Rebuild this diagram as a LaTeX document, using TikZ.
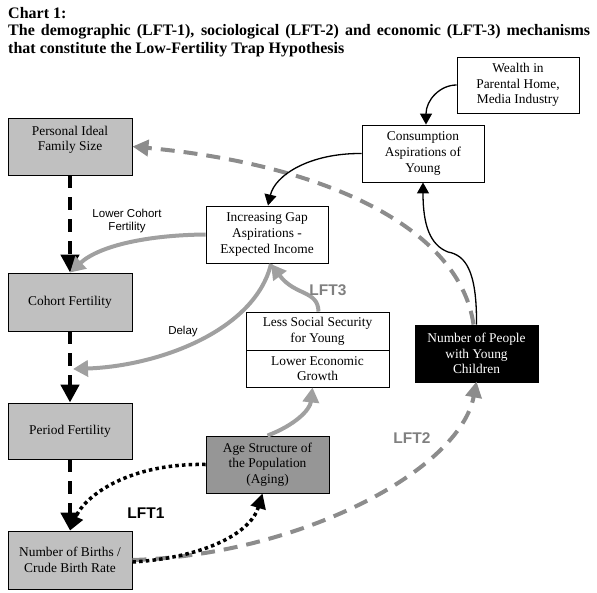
\documentclass[tikz,border=0pt]{standalone}
\usepackage{fontspec}
\setmainfont{Liberation Serif}
\setsansfont{Liberation Sans}
\usetikzlibrary{arrows.meta}
\definecolor{boxgray}{HTML}{C0C0C0}
\definecolor{agegray}{HTML}{969696}
\definecolor{arrgray}{HTML}{A0A0A0}
\definecolor{dashgray}{HTML}{8C8C8C}
\definecolor{lftgray}{HTML}{808080}
\begin{document}
\begin{tikzpicture}[x=1pt,y=-1pt,
  box/.style={draw=black, line width=0.9pt, inner sep=0pt, align=center,
    font=\fontsize{13.4}{15.6}\selectfont},
  graybox/.style={box, fill=boxgray, minimum width=124pt},
  whitebox/.style={box, fill=white},
  blackdash/.style={line width=4.5pt, dash pattern=on 13pt off 9pt,
    -{Triangle[length=18pt,width=18pt]}},
  grayarrow/.style={line width=4pt, arrgray, -{Triangle[length=15pt,width=16pt]}},
  graydash/.style={line width=4pt, dashgray, dash pattern=on 14pt off 9pt,
    -{Triangle[length=16pt,width=16pt]}},
  thinarrow/.style={line width=1.3pt, -{Triangle[length=11pt,width=12pt]}},
  dotarrow/.style={line width=3.5pt, dash pattern=on 3.5pt off 3.2pt,
    -{Triangle[length=15pt,width=15pt]}},
  lbl/.style={font=\sffamily\fontsize{11.5}{13}\selectfont, align=center, inner sep=0pt},
  lft/.style={font=\sffamily\bfseries\fontsize{15.5}{17}\selectfont, inner sep=0pt},
  ttl/.style={font=\bfseries\fontsize{16}{18}\selectfont, inner sep=0pt, anchor=base west}
]
\useasboundingbox (0,0) rectangle (597,592);

% title
\node[ttl] (t1) at (8,18) {Chart 1:};
\node[ttl] (t2) at (8,35.5) {\makebox[582pt][s]{The demographic (LFT-1), sociological (LFT-2) and economic (LFT-3) mechanisms}};
\node[ttl] (t3) at (8,53) {that constitute the Low-Fertility Trap Hypothesis};

% boxes
\node[graybox, minimum height=57pt] (pers) at (70,146.5) {Personal Ideal\\Family Size\\[1pt]};
\node[graybox, minimum height=58pt] (coh) at (70,302) {Cohort Fertility};
\node[graybox, minimum height=56pt] (per) at (70,431) {Period Fertility};
\node[graybox, minimum height=58pt] (birth) at (70,560) {Number of Births /\\Crude Birth Rate};
\node[whitebox, minimum width=122pt, minimum height=57pt] (gap) at (267,234.5) {Increasing Gap\\Aspirations -\\Expected Income};
\node[whitebox, minimum width=143pt, minimum height=38pt] (lss) at (317.5,331) {Less Social Security\\for Young};
\node[whitebox, minimum width=143pt, minimum height=37pt] (leg) at (317.5,368.5) {Lower Economic\\Growth};
\node[box, fill=black, text=white, minimum width=123pt, minimum height=57pt] (npc) at (476.5,353.5) {Number of People\\with Young\\Children};
\node[box, fill=agegray, minimum width=123pt, minimum height=57pt] (age) at (267.5,464.5) {Age Structure of\\the Population\\(Aging)};
\node[whitebox, minimum width=122pt, minimum height=56pt] (wealth) at (518,85) {Wealth in\\Parental Home,\\Media Industry};
\node[whitebox, minimum width=122pt, minimum height=57pt] (cons) at (423,153.5) {Consumption\\Aspirations of\\Young};

% coordinates
\coordinate (gapS) at (271,264);
\coordinate (dashL) at (73,369);

% black dashed chain
\draw[blackdash] (pers.south) -- (coh.north);
\draw[blackdash] (coh.south) -- (per.north);
\draw[blackdash] (per.south) -- (birth.north);

% gray dashed arcs (LFT2)
\draw[graydash] ([xshift=-3pt]npc.north) .. controls (460,230) and (330,165) .. (pers.east);
\draw[graydash] (birth.east) .. controls (300,555) and (460,470) .. ([yshift=1pt]npc.south);

% gray solid arrows
\draw[grayarrow] (gap.west) .. controls (150,235) and (100,245) .. (coh.north);
\draw[grayarrow] (gapS) .. controls (255,330) and (160,366) .. (dashL);
\draw[grayarrow] ([xshift=1pt]lss.north) .. controls (318,290) and (295,296) .. (gapS);
\draw[grayarrow] (age.north) .. controls (295,425) and (310,410) .. ([xshift=-5pt]leg.south);

% thin black arrows
\draw[thinarrow] (wealth.west) .. controls (440,85) and (426,100) .. ([xshift=3pt]cons.north);
\draw[thinarrow] (cons.west) .. controls (310,153) and (275,175) .. ([xshift=1pt]gap.north);
\draw[thinarrow] (npc.north) .. controls (477,270) and (465,255) .. (448,252)
   .. controls (430,245) and (423,225) .. (cons.south);

% dotted LFT1
\draw[dotarrow] (age.west) .. controls (130,463) and (85,495) .. (birth.north);
\draw[dotarrow] ([yshift=-2pt]birth.east) .. controls (200,558) and (250,535) .. ([xshift=-5pt]age.south);

% labels
\node[lbl] (lcf) at (127,221) {Lower Cohort\\Fertility};
\node[lbl] (delay) at (183,332) {Delay};
\node[lft, text=lftgray] (lft3) at (328,290) {LFT3};
\node[lft, text=lftgray] (lft2) at (412,438) {LFT2};
\node[lft] (lft1) at (146,513) {LFT1};
\end{tikzpicture}
\end{document}
